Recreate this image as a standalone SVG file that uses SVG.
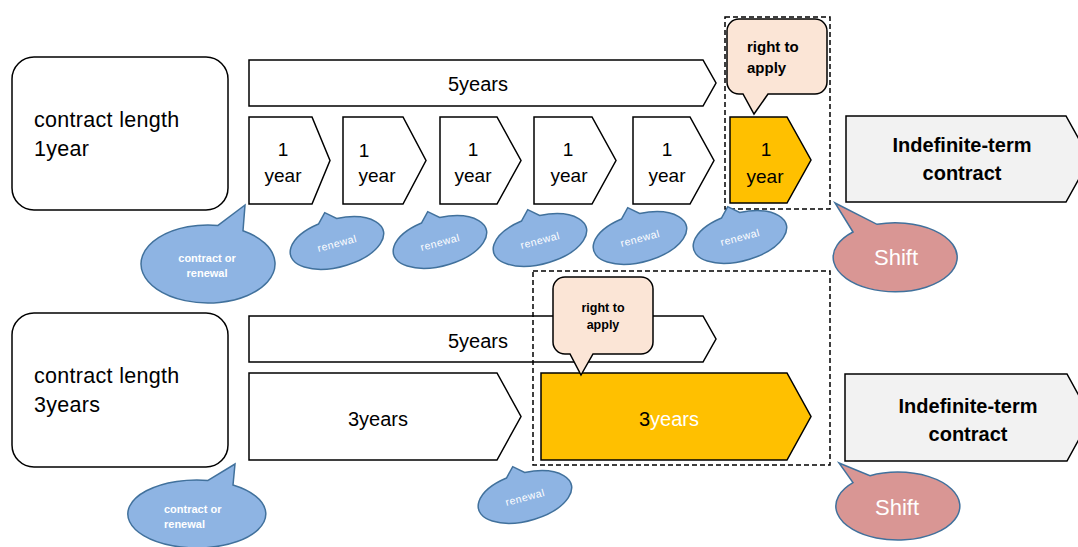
<svg xmlns="http://www.w3.org/2000/svg" width="1078" height="547" viewBox="0 0 1078 547">
<style>
  text { font-family: "Liberation Sans", Arial, sans-serif; }
  .box { fill: #ffffff; stroke: #000000; stroke-width: 1.5; }
  .yel { fill: #FFC000; stroke: #000000; stroke-width: 1.5; }
  .grey { fill: #F2F2F2; stroke: #000000; stroke-width: 1.5; }
  .note { fill: #FBE5D6; stroke: #000000; stroke-width: 1.5; }
  .dash { fill: none; stroke: #000000; stroke-width: 1.5; stroke-dasharray: 5 3; }
  .blue { fill: #8EB4E3; stroke: #41719C; stroke-width: 1.5; }
  .pink { fill: #D99694; stroke: #41719C; stroke-width: 1.5; }
  .lbl { font-size: 21.5px; fill: #000; letter-spacing: 0.3px; }
  .yr { font-size: 19px; fill: #000; text-anchor: middle; }
  .mid { font-size: 20px; fill: #000; text-anchor: middle; }
  .big { font-size: 20px; font-weight: bold; fill: #000; text-anchor: middle; }
  .ren { font-size: 10.5px; fill: #fff; text-anchor: middle; letter-spacing: 0.5px; }
  .cor { font-size: 11px; font-weight: bold; fill: #fff; }
  .shift { font-size: 22px; fill: #fff; text-anchor: middle; }
  .rta { font-weight: bold; fill: #000; }
</style>
<defs>
  <path id="renewalBubble" d="M -13,-23.1 L -4,-32.5 L 6,-23.8 A 48 24 0 1 1 -13,-23.1 Z"/>
</defs>

<!-- ===== Row 1 : contract length 1 year ===== -->
<g id="label-1year">
  <rect class="box" x="12" y="57" width="216" height="153" rx="22" ry="22"/>
  <text class="lbl" x="34" y="127">contract length</text>
  <text class="lbl" x="34" y="156">1year</text>
</g>

<g id="bar-5years-top">
  <path class="box" d="M249,60 H703 L716,83 L703,106 H249 Z"/>
  <text class="mid" x="478" y="91">5years</text>
</g>

<g id="year-1">
  <path class="box" d="M249,117 H312 L330,160.5 L312,204 H249 Z"/>
  <text class="yr" x="283" y="156">1</text>
  <text class="yr" x="283" y="182">year</text>
</g>
<g id="year-2">
  <path class="box" d="M343,117 H403 L426,160.5 L403,204 H343 Z"/>
  <text class="yr" x="364" y="157">1</text>
  <text class="yr" x="377" y="182">year</text>
</g>
<g id="year-3">
  <path class="box" d="M440,117 H497 L521,160.5 L497,204 H440 Z"/>
  <text class="yr" x="473" y="156">1</text>
  <text class="yr" x="473" y="182">year</text>
</g>
<g id="year-4">
  <path class="box" d="M534,117 H592 L616,160.5 L592,204 H534 Z"/>
  <text class="yr" x="568" y="156">1</text>
  <text class="yr" x="569" y="182">year</text>
</g>
<g id="year-5">
  <path class="box" d="M633,117 H690 L714,160.5 L690,204 H633 Z"/>
  <text class="yr" x="667" y="156">1</text>
  <text class="yr" x="667" y="182">year</text>
</g>

<g id="highlight-top">
  <rect class="dash" x="725" y="17" width="105" height="192"/>
</g>
<g id="year-6">
  <path class="yel" d="M730,117 H787 L811,160 L787,203 H730 Z"/>
  <text class="yr" x="766" y="156">1</text>
  <text class="yr" x="765" y="183">year</text>
</g>
<g id="right-to-apply-top">
  <path class="note" d="M739,19 H815 A12,12 0 0 1 827,31 V82 A12,12 0 0 1 815,94 H768 L754,114 L743,94 H739 A12,12 0 0 1 727,82 V31 A12,12 0 0 1 739,19 Z"/>
  <text class="rta" x="747" y="52" font-size="15">right to</text>
  <text class="rta" x="747" y="73" font-size="15">apply</text>
</g>

<g id="indefinite-top">
  <path class="grey" d="M846,116 H1066 L1090,159 L1066,202 H846 Z"/>
  <text class="big" x="962" y="152">Indefinite-term</text>
  <text class="big" x="962" y="180">contract</text>
</g>

<g id="contract-or-renewal-top">
  <path class="blue" d="M218,225.4 L245,205 L243,230.7 A67,39 0 1 1 218,225.4 Z"/>
  <text class="cor" x="207" y="262" text-anchor="middle">contract or</text>
  <text class="cor" x="207" y="277" text-anchor="middle">renewal</text>
</g>

<g id="renewal-1" transform="translate(337,243) rotate(-15)">
  <use href="#renewalBubble" class="blue"/>
  <text class="ren" x="0" y="4">renewal</text>
</g>
<g id="renewal-2" transform="translate(440,242) rotate(-15)">
  <use href="#renewalBubble" class="blue"/>
  <text class="ren" x="0" y="4">renewal</text>
</g>
<g id="renewal-3" transform="translate(540,240) rotate(-15)">
  <use href="#renewalBubble" class="blue"/>
  <text class="ren" x="0" y="4">renewal</text>
</g>
<g id="renewal-4" transform="translate(640,238) rotate(-15)">
  <use href="#renewalBubble" class="blue"/>
  <text class="ren" x="0" y="4">renewal</text>
</g>
<g id="renewal-5" transform="translate(740,237) rotate(-15)">
  <use href="#renewalBubble" class="blue"/>
  <text class="ren" x="0" y="4">renewal</text>
</g>

<g id="shift-top">
  <path class="pink" d="M853,232 L835,203 L877,224.3 A62,34.5 0 1 1 853,232 Z"/>
  <text class="shift" x="896" y="265">Shift</text>
</g>

<!-- ===== Row 2 : contract length 3 years ===== -->
<g id="label-3years">
  <rect class="box" x="12" y="313" width="216" height="154" rx="22" ry="22"/>
  <text class="lbl" x="34" y="383">contract length</text>
  <text class="lbl" x="34" y="412">3years</text>
</g>

<g id="bar-5years-bottom">
  <path class="box" d="M249,316 H703 L716,339 L703,362 H249 Z"/>
  <text class="mid" x="478" y="348">5years</text>
</g>

<g id="highlight-bottom">
  <rect class="dash" x="533" y="271" width="297" height="194"/>
</g>

<g id="term-3years-1">
  <path class="box" d="M249,373 H497 L521,416.5 L497,460 H249 Z"/>
  <text class="mid" x="378" y="426">3years</text>
</g>
<g id="term-3years-2">
  <path class="yel" d="M541,373 H787 L811,416.5 L787,460 H541 Z"/>
  <text class="mid" x="669" y="426"><tspan fill="#000">3</tspan><tspan fill="#fff">years</tspan></text>
</g>

<g id="right-to-apply-bottom">
  <path class="note" d="M565,277 H641 A12,12 0 0 1 653,289 V342 A12,12 0 0 1 641,354 H593 L581,375 L570,354 H565 A12,12 0 0 1 553,342 V289 A12,12 0 0 1 565,277 Z"/>
  <text class="rta" x="603" y="312" font-size="12.5" text-anchor="middle">right to</text>
  <text class="rta" x="603" y="329" font-size="12.5" text-anchor="middle">apply</text>
</g>

<g id="indefinite-bottom">
  <path class="grey" d="M845,374 H1067 L1091,417.5 L1067,461 H845 Z"/>
  <text class="big" x="968" y="413">Indefinite-term</text>
  <text class="big" x="968" y="441">contract</text>
</g>

<g id="contract-or-renewal-bottom">
  <path class="blue" d="M208,480.4 L235,464 L233,485 A69,34 0 1 1 208,480.4 Z"/>
  <text class="cor" x="164" y="513">contract or</text>
  <text class="cor" x="164" y="528">renewal</text>
</g>

<g id="renewal-6" transform="translate(525,497) rotate(-15)">
  <use href="#renewalBubble" class="blue"/>
  <text class="ren" x="0" y="4">renewal</text>
</g>

<g id="shift-bottom">
  <path class="pink" d="M853,482.6 L839,463 L870,475.7 A62,34 0 1 1 853,482.6 Z"/>
  <text class="shift" x="897" y="515">Shift</text>
</g>
</svg>
